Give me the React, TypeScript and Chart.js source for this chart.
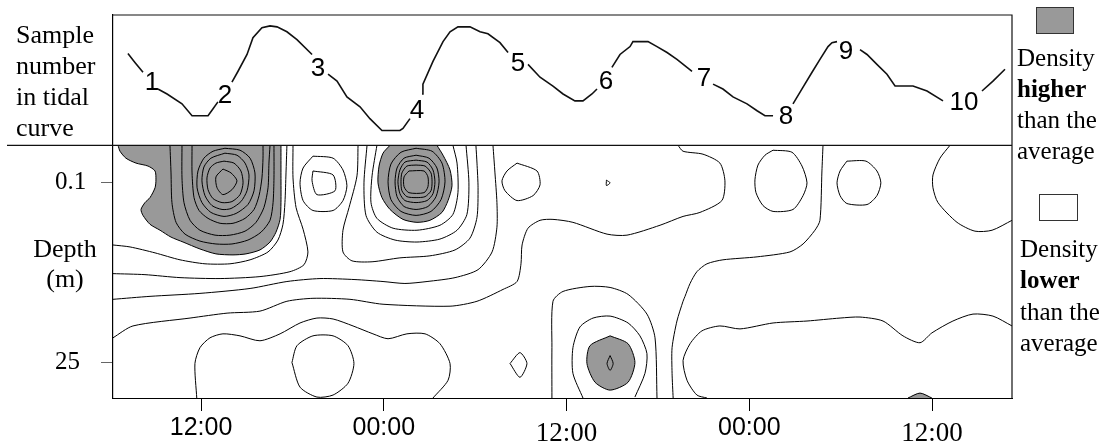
import React, { useEffect, useRef } from "react";
import { Chart, registerables } from "chart.js";

Chart.register(...registerables);

type P = [number, number];

// ---------- axes ----------
const xMin = 6.22; // hours since start of day 1
const xMax = 65.25;
const xTickValues = [12, 24, 36, 48, 60];
const xTickLabels = ["12:00", "00:00", "12:00", "00:00", "12:00"];
const xTickSerif = [false, false, true, false, true];
const depthMin = -23.03;
const depthMax = 29.91;
const depthTickValues = [0.1, 25];
const depthTickLabels = ["0.1", "25"];
const tideMin = -25.6;
const tideMax = 13.2;

// ---------- tidal curve (null = break in the curve at a sample label) ----------
const tideTime = [
  7.2, 7.66, 8.19, 8.78, 9.17, 9.77, 10.75, 11.41, 12.46, 12.79, 13.11, 13.57,
  14.03, 14.43, 15.02, 15.41, 16.0, 16.53, 16.99, 17.64, 18.3, 19.29, 19.68,
  20.34, 20.93, 21.58, 22.44, 23.09, 23.88, 25.06, 25.26, 25.72, 26.18,
  26.51, 26.57, 27.23, 27.89, 28.35, 28.87, 29.66, 30.32, 30.84, 31.63, 32.16, 32.81,
  33.47, 34.26, 35.11, 35.77, 36.55, 37.08, 37.67, 38.0, 38.59,
  38.98, 39.51, 40.17, 40.36, 41.35, 41.94, 42.6, 43.25, 44.24, 45.03,
  45.62, 46.27, 46.93, 47.85, 48.51, 49.03, 49.56, 50.41,
  50.87, 51.53, 52.12, 52.64, 53.17, 53.43, 53.76, 54.35,
  55.27, 55.73, 56.38, 57.04, 57.57, 58.75, 59.67, 60.72, 62.1,
  63.28, 64.0, 64.79,
];
const tideLevel: (number | null)[] = [
  9.3, 8.4, 7.4, null, 5.7, 5.2, 4.2, 3.0, 3.0, 3.7, 4.4, null,
  6.4, 7.5, 9.2, 10.9, 11.9, 12.1, 12.0, 11.5, 10.7, 9.2, null,
  7.2, 6.5, 4.9, 3.9, 2.7, 1.5, 1.5, 1.7, 2.7, null,
  5.2, 6.2, 8.5, 10.5, 11.5, 12.0, 12.0, 11.5, 11.3, 10.4, 9.4, null,
  8.2, 6.9, 6.0, 5.2, 4.5, 4.5, 5.2, 5.7, null,
  7.9, 9.2, 10.0, 10.5, 10.5, 10.0, 9.4, 8.7, 7.5, null,
  6.2, 5.7, 4.9, 4.2, 3.5, 3.0, 3.0, null,
  4.2, 5.9, 7.4, 8.7, 10.0, 10.4, 10.5, null,
  9.7, 9.2, 8.2, 7.2, 6.0, 6.0, 5.5, 4.5, null,
  5.5, 6.5, 7.7,
];
const sampleNumbers = ["1", "2", "3", "4", "5", "6", "7", "8", "9", "10"];
const sampleTimes = [8.78, 13.57, 19.68, 26.18, 32.81, 38.59, 45.03, 50.41, 54.35, 62.1];
const sampleLevels = [6.3, 5.0, 7.7, 3.5, 8.3, 6.4, 6.7, 2.9, 9.5, 4.3];

// ---------- density contours: [hours, depth m] ----------
const highArea1: P[] = [
  [6.55, -5.02], [6.68, -4.2], [7.07, -3.24], [7.73, -2.56], [8.52, -2.15], [8.98, -1.47],
  [9.04, -0.24], [8.98, 0.85], [8.65, 2.21], [8.32, 2.9], [8.06, 3.85], [8.19, 4.67],
  [8.65, 5.9], [9.31, 6.72], [10.03, 7.67], [10.82, 8.35], [11.93, 9.31], [12.98, 9.99],
  [14.1, 10.13], [14.95, 9.99], [15.87, 9.44], [16.53, 8.35], [16.92, 6.99], [17.19, 5.22],
  [17.25, 2.9], [17.25, -0.79], [17.25, -5.02],
];
const area1Line7: P[] = [
  [9.96, -5.02], [10.03, -1.2], [10.09, 2.9], [10.36, 5.63], [10.95, 7.26], [11.93, 8.22],
  [12.98, 8.62], [14.03, 8.62], [15.08, 8.08], [15.94, 6.99], [16.53, 5.35], [16.73, 2.9],
  [16.79, -0.51], [16.79, -5.02],
];
const area1Line6: P[] = [
  [10.75, -5.02], [10.75, -0.51], [10.88, 2.9], [11.28, 5.35], [11.93, 6.72], [12.92, 7.4],
  [13.9, 7.4], [14.89, 6.85], [15.61, 5.63], [16.13, 3.58], [16.4, 0.85], [16.46, -2.56],
  [16.53, -5.02],
];
const area1Line5: P[] = [
  [11.41, -5.02], [11.41, -1.2], [11.54, 2.21], [11.87, 3.99], [12.46, 5.08], [13.25, 5.76],
  [14.1, 5.76], [14.89, 5.08], [15.48, 3.85], [15.81, 1.94], [16.0, -0.51], [16.07, -3.24],
  [16.07, -5.02],
];
const area1Ring4: P[] = [
  [13.57, -4.61], [14.56, -4.34], [15.22, -3.24], [15.54, -1.2], [15.48, 1.26], [15.08, 3.17],
  [14.3, 4.4], [13.51, 4.81], [12.65, 4.26], [12.06, 2.9], [11.74, 0.85], [11.8, -1.47],
  [12.19, -3.24], [12.79, -4.2], [13.57, -4.61],
];
const area1Ring3: P[] = [
  [13.57, -3.93], [14.36, -3.65], [14.89, -2.56], [15.15, -0.92], [15.02, 1.26], [14.62, 2.76],
  [13.97, 3.72], [13.38, 3.85], [12.72, 3.31], [12.26, 1.94], [12.06, -0.11], [12.19, -2.02],
  [12.65, -3.24], [13.57, -3.93],
];
const area1Ring2: P[] = [
  [13.51, -2.83], [14.16, -2.56], [14.62, -1.47], [14.76, 0.17], [14.56, 1.8], [14.03, 2.76],
  [13.38, 2.9], [12.79, 2.35], [12.46, 1.12], [12.39, -0.51], [12.59, -1.88], [12.98, -2.56],
  [13.51, -2.83],
];
const area1Core: P[] = [
  [13.44, -1.74], [13.97, -1.2], [14.36, -0.11], [14.03, 1.12], [13.44, 1.8], [13.05, 0.85],
  [12.98, -0.65], [13.44, -1.74],
];
const highArea2: P[] = [
  [24.41, -5.02], [23.95, -3.93], [23.69, -2.15], [23.62, 0.17], [23.88, 2.21], [24.41, 3.85],
  [25.26, 5.22], [26.18, 5.63], [27.03, 5.35], [27.82, 4.26], [28.22, 2.62], [28.48, 0.58],
  [28.35, -1.61], [27.89, -3.65], [27.49, -5.02],
];
const area2RingA: P[] = [
  [26.12, -4.61], [27.17, -4.2], [27.82, -2.56], [28.02, 0.03], [27.76, 2.49], [27.1, 4.12],
  [26.12, 4.67], [25.13, 4.12], [24.47, 2.49], [24.28, 0.03], [24.47, -2.43], [25.13, -4.06],
  [26.12, -4.61],
];
const area2RingB: P[] = [
  [26.12, -3.65], [26.97, -3.24], [27.49, -1.88], [27.63, 0.03], [27.43, 2.08], [26.9, 3.44],
  [26.12, 3.85], [25.33, 3.44], [24.87, 2.08], [24.74, 0.03], [24.87, -1.88], [25.33, -3.24],
  [26.12, -3.65],
];
const area2RingC: P[] = [
  [26.12, -2.97], [26.84, -2.7], [27.23, -1.61], [27.36, 0.03], [27.23, 1.67], [26.84, 2.62],
  [26.12, 2.9], [25.39, 2.62], [25.06, 1.67], [24.93, 0.03], [25.06, -1.61], [25.39, -2.7],
  [26.12, -2.97],
];
const area2RingD: P[] = [
  [26.12, -2.29], [26.71, -2.15], [27.1, -1.2], [27.17, 0.03], [27.1, 1.26], [26.71, 2.08],
  [26.12, 2.21], [25.52, 2.08], [25.19, 1.26], [25.13, 0.03], [25.19, -1.2], [25.52, -2.15],
  [26.12, -2.29],
];
const area2Core: P[] = [
  [25.65, -1.47], [26.64, -1.47], [26.9, -0.65], [26.9, 0.71], [26.64, 1.53], [25.65, 1.53],
  [25.33, 0.71], [25.33, -0.65], [25.65, -1.47],
];
const around2Line1: P[] = [
  [23.55, -5.02], [23.23, -0.79], [23.16, 2.9], [23.55, 5.08], [24.61, 6.44], [26.18, 6.72],
  [27.69, 6.03], [28.54, 4.53], [28.87, 1.53], [28.81, -2.56], [28.54, -5.02],
];
const around2Line2: P[] = [
  [22.9, -5.02], [22.7, 0.17], [22.83, 4.67], [23.55, 6.99], [24.74, 8.08], [26.18, 8.35],
  [27.69, 7.94], [28.81, 6.72], [29.46, 4.53], [29.59, 0.17], [29.4, -5.02],
];
const neckRight: P[] = [
  [22.31, -5.02], [22.24, -0.79], [21.72, 3.58], [21.32, 6.72], [21.32, 9.72], [21.91, 10.95],
  [23.23, 11.08], [25.06, 10.54], [27.03, 10.26], [28.68, 9.44], [29.66, 7.81], [30.12, 4.94],
  [30.19, 0.85], [30.12, -2.56], [30.05, -5.02],
];
const lowRing1Inner: P[] = [
  [19.35, -1.47], [20.67, -0.92], [20.8, 1.26], [19.61, 1.8], [19.29, -0.11], [19.35, -1.47],
];
const lowRing1Outer: P[] = [
  [19.35, -3.52], [20.67, -3.24], [21.32, -1.61], [21.58, 0.58], [21.32, 2.62], [20.67, 3.99],
  [19.35, 3.99], [18.7, 2.62], [18.5, 0.17], [18.7, -1.88], [19.35, -3.52],
];
const neckLeftUpper: P[] = [
  [17.64, -5.02], [17.58, -1.2], [17.51, 2.9], [17.38, 5.9], [17.05, 8.08], [16.4, 9.72],
  [15.22, 10.81], [13.9, 11.36], [12.26, 11.36], [10.62, 10.81], [8.98, 9.85], [7.34, 9.03],
  [6.22, 8.76],
];
const neckLeftLower: P[] = [
  [18.04, -5.02], [18.04, -0.51], [18.24, 3.58], [18.7, 6.58], [19.02, 9.72], [18.76, 11.49],
  [17.84, 12.45], [15.87, 13.13], [13.25, 13.4], [10.62, 13.27], [8.32, 12.86], [6.22, 12.72],
];
const line298: P[] = [
  [6.22, 16.27], [8.65, 15.86], [11.93, 15.45], [15.22, 14.77], [17.64, 13.81], [19.81, 13.4],
  [22.11, 13.54], [23.95, 13.81], [25.39, 14.08], [26.84, 13.81], [28.68, 13.27], [30.19, 12.17],
  [31.11, 9.72], [31.43, 6.31], [31.43, 2.9], [31.3, -1.2], [31.17, -5.02],
];
const lowRing2: P[] = [
  [32.75, -2.56], [34.06, -1.47], [34.26, 0.44], [33.8, 1.94], [32.75, 2.62], [31.96, 1.26],
  [31.76, -0.11], [32.09, -1.47], [32.75, -2.56],
];
const longLine: P[] = [
  [6.22, 21.59], [7.53, 19.95], [11.28, 18.86], [13.71, 18.18], [15.87, 17.9], [17.64, 16.54],
  [19.35, 16.13], [21.78, 16.27], [23.95, 16.95], [28.35, 17.22], [30.12, 16.54], [31.83, 14.9],
  [32.75, 13.81], [33.01, 11.36], [33.08, 8.76], [33.47, 6.44], [34.26, 5.35], [35.11, 5.22],
  [36.42, 5.63], [38.66, 7.26], [39.97, 7.4], [42.14, 6.03], [43.65, 4.81], [44.76, 4.26],
  [46.2, 2.62], [46.4, -0.11], [46.07, -2.56], [44.96, -3.79], [43.65, -4.2], [43.32, -5.02],
];
const bottomLobes: P[] = [
  [11.72, 29.91], [11.6, 25.14], [11.93, 22.95], [12.59, 21.59], [13.44, 21.04], [14.56, 21.32],
  [15.87, 22.0], [17.19, 21.04], [18.5, 19.54], [19.61, 18.86], [20.67, 18.99], [21.98, 19.95],
  [23.29, 21.04], [24.28, 21.72], [25.52, 21.04], [26.71, 21.04], [27.69, 22.41], [28.35, 25.14],
  [28.22, 27.46], [27.23, 29.91],
];
const bottomCircle: P[] = [
  [17.97, 25.0], [18.3, 22.68], [19.35, 21.32], [20.67, 21.32], [21.65, 22.68], [22.04, 25.14],
  [21.65, 27.87], [20.67, 29.5], [19.61, 29.78], [18.5, 28.41], [17.97, 25.0],
];
const bottomSmall: P[] = [
  [32.29, 25.14], [32.94, 23.64], [33.4, 25.14], [32.94, 27.05], [32.29, 25.14],
];
const tinySpot: P[] = [[38.62, -0.2], [38.86, 0.17], [38.62, 0.54], [38.62, -0.2]];
const lowRing3: P[] = [
  [49.56, -4.34], [50.8, -4.06], [51.46, -2.15], [51.79, 0.17], [51.53, 1.94], [50.87, 3.85],
  [49.56, 4.12], [48.9, 3.31], [48.44, 1.53], [48.37, -0.24], [48.57, -2.29], [49.03, -3.65],
  [49.56, -4.34],
];
const verticalLine: P[] = [
  [52.84, -5.02], [52.77, -1.47], [52.64, 5.35], [52.31, 6.72], [51.53, 8.62], [50.67, 9.72],
  [48.51, 10.4], [46.27, 10.81], [45.22, 11.36], [44.56, 12.45], [44.11, 14.08], [43.78, 15.86],
  [43.65, 16.54], [43.25, 19.27], [42.93, 22.95], [42.93, 26.5], [43.0, 29.91],
];
const lowRing4: P[] = [
  [54.41, -2.83], [55.66, -2.83], [56.38, -1.47], [56.64, 0.17], [56.38, 1.94], [55.73, 3.17],
  [54.41, 3.03], [53.96, 1.94], [53.76, 0.17], [53.96, -1.47], [54.41, -2.83],
];
const rightArc: P[] = [
  [61.18, -5.02], [60.52, -3.24], [60.06, -0.92], [60.06, 0.85], [60.39, 2.9], [61.64, 5.63],
  [62.82, 6.85], [63.94, 6.72], [65.25, 5.35],
];
const area3Outer: P[] = [
  [35.04, 29.91], [35.04, 22.95], [35.11, 16.54], [35.77, 15.18], [37.54, 14.49], [38.86, 14.63],
  [40.04, 15.59], [41.28, 18.31], [41.81, 21.59], [41.94, 29.91],
];
const area3Middle: P[] = [
  [37.08, 29.91], [36.42, 26.5], [36.42, 22.95], [36.88, 20.09], [37.74, 18.86], [38.86, 18.59],
  [40.04, 19.54], [40.82, 21.32], [41.28, 23.77], [41.15, 26.5], [40.49, 29.78],
];
const highArea3: P[] = [
  [38.86, 21.32], [40.04, 22.41], [40.49, 25.0], [40.04, 27.73], [38.86, 28.82], [37.87, 27.73],
  [37.34, 25.14], [37.54, 22.68], [38.86, 21.32],
];
const area3Core: P[] = [
  [38.86, 24.05], [39.06, 25.14], [38.86, 26.09], [38.66, 25.14], [38.86, 24.05],
];
const lowerRightArea: P[] = [
  [45.22, 29.91], [44.56, 29.5], [43.91, 27.46], [43.65, 24.73], [44.11, 22.41], [44.89, 20.63],
  [46.07, 19.95], [47.39, 20.36], [49.56, 19.54], [51.79, 19.27], [53.96, 18.86], [55.27, 18.72],
  [56.78, 19.27], [58.09, 21.32], [59.21, 22.27], [59.99, 20.91], [61.37, 19.27], [62.69, 18.31],
  [64.0, 18.59], [65.25, 19.95],
];
const highArea4: P[] = [[58.42, 29.91], [59.21, 29.23], [59.99, 29.91]];

const highAreas: P[][] = [highArea1, highArea2, highArea3, highArea4];
const contourLines: P[][] = [
  area1Line7, area1Line6, area1Line5, area1Ring4, area1Ring3, area1Ring2, area1Core,
  area2RingA, area2RingB, area2RingC, area2RingD, area2Core,
  around2Line1, around2Line2, neckRight, lowRing1Inner, lowRing1Outer,
  neckLeftUpper, neckLeftLower, line298, lowRing2, longLine,
  bottomLobes, bottomCircle, bottomSmall, tinySpot, lowRing3, verticalLine, lowRing4, rightArc,
  area3Outer, area3Middle, area3Core, lowerRightArea,
];

// ---------- text ----------
const tideLabelLines = ["Sample", "number", "in tidal", "curve"];
const depthLabelLines = ["Depth", "(m)"];
const legendHigh = ["Density", "higher", "than the", "average"];
const legendLow = ["Density", "lower", "than the", "average"];

const SERIF = '"Liberation Serif", "Times New Roman", Times, serif';
const SANS = '"Liberation Sans", Arial, Helvetica, sans-serif';
const GREY = "#999999";

const toXY = (pts: P[]) => pts.map(([x, y]) => ({ x, y }));

export default function App() {
  const ref = useRef<HTMLCanvasElement | null>(null);

  useEffect(() => {
    if (!ref.current) return;

    const datasets: any[] = [];
    highAreas.forEach((pts) =>
      datasets.push({
        data: toXY(pts),
        yAxisID: "yDepth",
        showLine: true,
        pointRadius: 0,
        borderColor: "#000",
        borderWidth: 1,
        backgroundColor: GREY,
        fill: "shape",
        tension: 0.25,
        order: 3,
      })
    );
    contourLines.forEach((pts) =>
      datasets.push({
        data: toXY(pts),
        yAxisID: "yDepth",
        showLine: true,
        pointRadius: 0,
        borderColor: "#000",
        borderWidth: 1,
        fill: false,
        tension: 0.25,
        order: 2,
      })
    );
    datasets.push({
      data: tideTime.map((t, i) => ({ x: t, y: tideLevel[i] })),
      yAxisID: "yTide",
      showLine: true,
      spanGaps: false,
      pointRadius: 0,
      borderColor: "#111",
      borderWidth: 1.6,
      fill: false,
      tension: 0,
      order: 1,
    });

    const framePlugin = {
      id: "frame",
      afterDraw(chart: any) {
        const { ctx, chartArea: a, scales } = chart;
        const sep = scales.yTide.getPixelForValue(0);
        ctx.save();
        ctx.strokeStyle = "#111";
        ctx.lineWidth = 1.2;
        ctx.beginPath();
        ctx.moveTo(a.left, a.top);
        ctx.lineTo(a.right, a.top);
        ctx.lineTo(a.right, a.bottom);
        ctx.moveTo(7, sep);
        ctx.lineTo(a.right, sep);
        ctx.stroke();
        ctx.restore();
      },
    };
    const sampleLabelPlugin = {
      id: "sampleLabels",
      afterDatasetsDraw(chart: any) {
        const { ctx, scales } = chart;
        ctx.save();
        ctx.fillStyle = "#000";
        ctx.font = `26px ${SANS}`;
        ctx.textAlign = "center";
        ctx.textBaseline = "middle";
        sampleNumbers.forEach((s, i) => {
          ctx.fillText(
            s,
            scales.x.getPixelForValue(sampleTimes[i]),
            scales.yTide.getPixelForValue(sampleLevels[i])
          );
        });
        ctx.restore();
      },
    };

    const chart = new Chart(ref.current, {
      type: "scatter",
      data: { datasets },
      plugins: [framePlugin, sampleLabelPlugin],
      options: {
        animation: false,
        responsive: false,
        devicePixelRatio: 1,
        layout: { padding: { left: 55, top: 10, right: 102, bottom: 0 } },
        plugins: { legend: { display: false }, tooltip: { enabled: false } },
        events: [],
        scales: {
          x: {
            type: "linear",
            position: "bottom",
            min: xMin,
            max: xMax,
            afterBuildTicks: (s: any) => {
              s.ticks = xTickValues.map((v) => ({ value: v }));
            },
            afterFit: (s: any) => {
              s.height = 48;
            },
            ticks: {
              padding: 0,
              color: "#000",
              maxRotation: 0,
              autoSkip: false,
              callback: (v: any) => xTickLabels[xTickValues.indexOf(Number(v))],
              font: (c: any) =>
                xTickSerif[c.index]
                  ? { family: SERIF, size: 27, lineHeight: "45px" }
                  : { family: SANS, size: 25, lineHeight: "35px" },
            },
            grid: { drawOnChartArea: false, drawTicks: true, tickLength: 13, color: "#000" },
            border: { display: true, color: "#000", width: 1 },
          },
          yDepth: {
            type: "linear",
            position: "left",
            reverse: true,
            min: depthMin,
            max: depthMax,
            afterBuildTicks: (s: any) => {
              s.ticks = depthTickValues.map((v) => ({ value: v }));
            },
            afterFit: (s: any) => {
              s.width = 58;
            },
            ticks: {
              padding: 0,
              color: "#000",
              crossAlign: "far",
              callback: (v: any) => depthTickLabels[depthTickValues.indexOf(Number(v))],
              font: { family: SERIF, size: 25 },
            },
            grid: { drawOnChartArea: false, drawTicks: true, tickLength: 12, color: "#666" },
            border: { display: true, color: "#000", width: 1.2 },
          },
          yTide: {
            type: "linear",
            position: "right",
            display: false,
            min: tideMin,
            max: tideMax,
          },
        },
      } as any,
    });
    return () => chart.destroy();
  }, []);

  const text = { position: "absolute" as const, color: "#000", fontFamily: SERIF, margin: 0 };
  const box = (left: number, top: number, w: number, h: number, bg: string) => ({
    position: "absolute" as const,
    left,
    top,
    width: w,
    height: h,
    background: bg,
    border: "1px solid #333",
    boxSizing: "border-box" as const,
  });

  return (
    <div style={{ position: "fixed", left: 0, top: 0, width: 1114, height: 446, background: "#fff", overflow: "hidden" }}>
      <canvas ref={ref} width={1114} height={446} style={{ position: "absolute", left: 0, top: 0, width: 1114, height: 446 }} />
      <div style={{ ...text, left: 16, top: 18.6, fontSize: 26, lineHeight: "31.3px" }}>
        {tideLabelLines.map((l) => (
          <div key={l}>{l}</div>
        ))}
      </div>
      <div style={{ ...text, left: 15, width: 100, top: 234.2, fontSize: 26, lineHeight: "30px", textAlign: "center" }}>
        {depthLabelLines.map((l) => (
          <div key={l}>{l}</div>
        ))}
      </div>
      <div style={box(1036, 7, 38, 27, GREY)} />
      <div style={{ ...text, left: 1017, top: 42, fontSize: 25, lineHeight: "31px" }}>
        {legendHigh.map((l, i) => (
          <div key={i} style={{ fontWeight: i === 1 ? "bold" : "normal" }}>{l}</div>
        ))}
      </div>
      <div style={box(1039, 194, 39, 27, "#fff")} />
      <div style={{ ...text, left: 1020, top: 232.8, fontSize: 25, lineHeight: "31.5px" }}>
        {legendLow.map((l, i) => (
          <div key={i} style={{ fontWeight: i === 1 ? "bold" : "normal" }}>{l}</div>
        ))}
      </div>
    </div>
  );
}
